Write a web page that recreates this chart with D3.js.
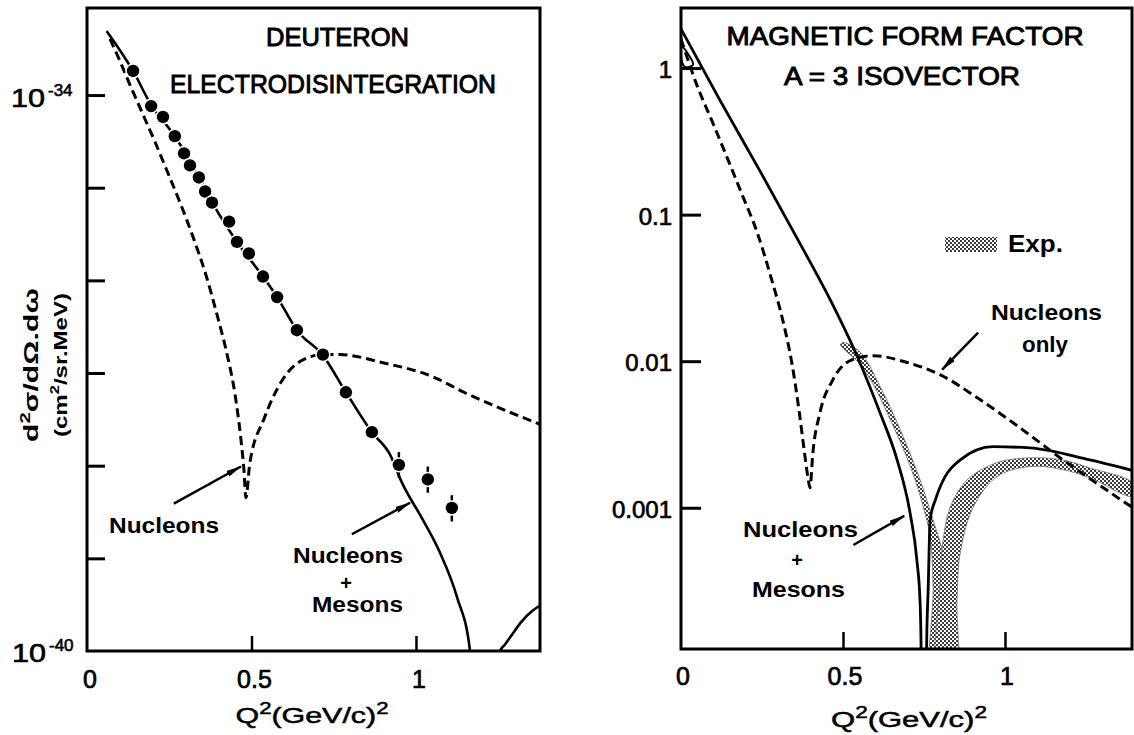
<!DOCTYPE html>
<html><head><meta charset="utf-8">
<script src="https://cdn.jsdelivr.net/npm/d3@7"></script>
<style>
body{margin:0;background:#fff}
svg{display:block}
text{font-family:"Liberation Sans",Arial,sans-serif;fill:#000}
</style>
</head><body>
<svg id="c" width="1134" height="735"></svg>
<script>
// ---------------- LEFT PANEL: Deuteron electrodisintegration ----------------
const deutQ2      = [0.140,0.195,0.231,0.267,0.295,0.313,0.340,0.359,0.380,0.432,0.456,0.492,0.535,0.578,0.638,0.717,0.787,0.866,0.948,1.036,1.109];
const deutSigma   = [1.82e-34,7.6e-35,5.8e-35,3.6e-35,2.35e-35,1.74e-35,1.29e-35,9.1e-36,6.9e-36,4.3e-36,2.6e-36,1.95e-36,1.1e-36,6.6e-37,2.9e-37,1.58e-37,6.2e-38,2.3e-38,1.02e-38,7.1e-39,3.5e-39];
const deutErrQ2   = [0.948,1.036,1.109];
const deutErrLo   = [7.4e-39,5.1e-39,2.5e-39];
const deutErrHi   = [1.4e-38,9.8e-39,4.8e-39];

const deutNMQ2    = [0.06,0.14,0.195,0.267,0.34,0.38,0.456,0.535,0.578,0.638,0.717,0.787,0.866,0.921,0.957,1.021,1.073,1.125,1.164,1.175];
const deutNM      = [4.9e-34,1.82e-34,7.8e-35,3.6e-35,1.3e-35,7.0e-36,2.6e-36,1.1e-36,6.6e-37,2.9e-37,1.55e-37,6.2e-38,2.3e-38,1.32e-38,6.6e-39,2.6e-39,1.15e-39,3.8e-40,1.02e-40,1e-41];
const deutNM2Q2   = [1.250,1.256,1.270,1.289,1.319,1.353,1.377];
const deutNM2     = [1e-41,1.0e-40,1.17e-40,1.45e-40,2.04e-40,2.7e-40,3.1e-40];

const deutNQ2     = [0.070,0.100,0.131,0.167,0.207,0.246,0.286,0.325,0.362,0.395,0.426,0.450,0.468,0.477,0.483,0.495,0.538,0.593,0.65,0.717,0.769,0.9,1.052,1.146,1.377];
const deutN       = [4.03e-34,2.33e-34,1.28e-34,6.54e-35,3.10e-35,1.44e-35,6.47e-36,2.77e-36,1.13e-36,4.29e-37,1.58e-37,5.86e-38,1.91e-38,9.06e-39,4.51e-39,1.07e-38,3.2e-38,8.3e-38,1.35e-37,1.58e-37,1.58e-37,1.29e-37,9.1e-38,6.2e-38,2.8e-38];

const leftYTicks  = [1e-34,1e-35,1e-36,1e-37,1e-38,1e-39];
const xTicks      = [0.5, 1];
const xTickLabels = ["0","0.5","1"];
const xLabelVals  = [0, 0.5, 1];

// ---------------- RIGHT PANEL: magnetic form factor ----------------
const ffNMQ2  = [0.0,0.120,0.244,0.367,0.460,0.543,0.614,0.667,0.707,0.728,0.738,0.741,0.744];
const ffNM    = [1.85,0.604,0.198,0.0637,0.0264,0.0109,0.00446,0.00212,0.00092,0.00044,0.000224,0.00011,1e-5];
const ffNM2Q2 = [0.755,0.758,0.763,0.769,0.785,0.800,0.862,0.963,1.077,1.262,1.392];
const ffNM2   = [1e-5,1.1e-4,2.83e-4,8.3e-4,1.13e-3,1.39e-3,2.12e-3,2.61e-3,2.56e-3,2.12e-3,1.80e-3];

const ffNQ2   = [0.0,0.049,0.096,0.142,0.188,0.235,0.278,0.315,0.343,0.364,0.380,0.392,0.398,0.407,0.429,0.469,0.531,0.593,0.698,0.799,0.923,1.025,1.108,1.179,1.253,1.392];
const ffN     = [1.58,0.765,0.434,0.246,0.138,0.0757,0.0372,0.0187,0.00948,0.00467,0.00249,0.0016,0.00137,0.00237,0.00446,0.00748,0.0103,0.0109,0.0098,0.0081,0.00547,0.0038,0.00278,0.00212,0.00163,0.00101];

// experimental band outlines (closed polygons, Q2 / |F|)
const exp1Q2  = [0.492,0.545,0.585,0.646,0.708,0.748,0.769,0.778,0.778,0.846,0.846,0.840,0.809,0.778,0.738,0.677,0.615,0.554,0.502];
const exp1F   = [0.01297,0.00993,0.00748,0.00399,0.00191,0.00101,0.000632,0.000288,5e-5,5e-5,0.000116,0.000224,0.000492,0.000826,0.00155,0.0034,0.0067,0.01146,0.0134];
const exp2Q2  = [0.846,0.852,0.862,0.902,0.975,1.077,1.178,1.262,1.392,1.392,1.262,1.178,1.077,0.975,0.883,0.831,0.809,0.800,0.794];
const exp2F   = [5e-5,0.000234,0.000492,0.00101,0.00163,0.00191,0.00182,0.0016,0.0012,0.00148,0.00187,0.00212,0.00219,0.00203,0.00155,0.00101,0.0006,0.00032,5e-5];
const exp0Q2  = [0.003,0.037,0.012,0.0];
const exp0F   = [1.39,1.05,1.02,1.19];

const rightYTicks  = [1, 0.1, 0.01, 0.001];
const rightYLabels = ["1","0.1","0.01","0.001"];

// ---------------- drawing ----------------
const svg = d3.select("#c");
const zip = (a,b) => a.map((v,i)=>[v,b[i]]);

const defs = svg.append("defs");
const pat = defs.append("pattern").attr("id","stip").attr("width",4).attr("height",4).attr("patternUnits","userSpaceOnUse");
pat.append("rect").attr("width",4).attr("height",4).attr("fill","#fff");
pat.append("rect").attr("x",0).attr("y",0).attr("width",2).attr("height",2).attr("fill","#3a3a3a");
pat.append("rect").attr("x",2).attr("y",2).attr("width",2).attr("height",2).attr("fill","#3a3a3a");
defs.append("marker").attr("id","arr").attr("viewBox","0 0 16 8").attr("refX",15).attr("refY",4)
  .attr("markerWidth",16).attr("markerHeight",8).attr("orient","auto").attr("markerUnits","userSpaceOnUse")
  .append("path").attr("d","M0,0.8 L16,4 L0,7.2 Z").attr("fill","#000");

// scales
const xL = d3.scaleLinear().domain([0, 1.377]).range([87, 540]);
const yL = d3.scaleLog().domain([1e-40, 8.7e-34]).range([651, 8]);
const xR = d3.scaleLinear().domain([0, 1.392]).range([681, 1132]);
const yR = d3.scaleLog().domain([1.087e-4, 2.57]).range([649, 8]);

function clip(id, x, y){
  defs.append("clipPath").attr("id",id).append("rect")
    .attr("x",x.range()[0]).attr("y",y.range()[1]).attr("width",x.range()[1]-x.range()[0]).attr("height",y.range()[0]-y.range()[1]);
}
clip("cl", xL, yL); clip("cr", xR, yR);

const lineL = d3.line().x(d=>xL(d[0])).y(d=>yL(d[1])).curve(d3.curveMonotoneX);
const lineR = d3.line().x(d=>xR(d[0])).y(d=>yR(d[1])).curve(d3.curveMonotoneX);
const polyR = d3.line().x(d=>xR(d[0])).y(d=>yR(d[1])).curve(d3.curveCatmullRomClosed.alpha(0.5));

const dashed = "9,5";

// ---- LEFT ----
const gL = svg.append("g");
const cL = gL.append("g").attr("clip-path","url(#cl)");
cL.append("path").attr("d", lineL(zip(deutNQ2,deutN))).attr("fill","none").attr("stroke","#000").attr("stroke-width",3).attr("stroke-dasharray",dashed);
cL.append("path").attr("d", lineL(zip(deutNMQ2,deutNM))).attr("fill","none").attr("stroke","#000").attr("stroke-width",2.6);
cL.append("path").attr("d", lineL(zip(deutNM2Q2,deutNM2))).attr("fill","none").attr("stroke","#000").attr("stroke-width",2.6);
// error bars
cL.selectAll(".eb").data(deutErrQ2.map((q,i)=>({q,lo:deutErrLo[i],hi:deutErrHi[i]}))).enter().append("line")
  .attr("x1",d=>xL(d.q)).attr("x2",d=>xL(d.q)).attr("y1",d=>yL(d.lo)).attr("y2",d=>yL(d.hi))
  .attr("stroke","#000").attr("stroke-width",2.5);
cL.selectAll(".pt").data(zip(deutQ2,deutSigma)).enter().append("circle")
  .attr("cx",d=>xL(d[0])).attr("cy",d=>yL(d[1])).attr("r",6.2)
  .attr("fill","#000").attr("stroke","#fff").attr("stroke-width",3).style("paint-order","stroke");

// axes (inward ticks)
gL.append("g").attr("transform",`translate(${xL.range()[0]},0)`)
  .call(d3.axisLeft(yL).tickValues(leftYTicks).tickSize(-18).tickFormat(""))
  .call(g=>g.select(".domain").remove()).selectAll("line").attr("stroke-width",3);
gL.append("g").attr("transform",`translate(0,${yL.range()[0]})`)
  .call(d3.axisBottom(xL).tickValues(xTicks).tickSize(-15).tickFormat(""))
  .call(g=>g.select(".domain").remove()).selectAll("line").attr("stroke-width",2.5);
gL.append("rect").attr("x",xL.range()[0]).attr("y",yL.range()[1]).attr("width",xL.range()[1]-xL.range()[0]).attr("height",yL.range()[0]-yL.range()[1])
  .attr("fill","none").attr("stroke","#000").attr("stroke-width",3);

// ---- RIGHT ----
const gR = svg.append("g");
const cR = gR.append("g").attr("clip-path","url(#cr)");
[zip(exp1Q2,exp1F), zip(exp2Q2,exp2F)].forEach(p=>{
  cR.append("path").attr("d", polyR(p)).attr("fill","url(#stip)").attr("stroke","#777").attr("stroke-width",0.8);
});
cR.append("path").attr("d", polyR(zip(exp0Q2,exp0F))).attr("fill","#fff").attr("stroke","#000").attr("stroke-width",2);
cR.append("path").attr("d", lineR(zip(ffNQ2,ffN))).attr("fill","none").attr("stroke","#000").attr("stroke-width",3).attr("stroke-dasharray",dashed);
cR.append("path").attr("d", lineR(zip(ffNMQ2,ffNM))).attr("fill","none").attr("stroke","#000").attr("stroke-width",2.8);
cR.append("path").attr("d", lineR(zip(ffNM2Q2,ffNM2))).attr("fill","none").attr("stroke","#000").attr("stroke-width",2.8);

gR.append("g").attr("transform",`translate(${xR.range()[0]},0)`)
  .call(d3.axisLeft(yR).tickValues(rightYTicks).tickSize(-20).tickFormat(""))
  .call(g=>g.select(".domain").remove()).selectAll("line").attr("stroke-width",3);
gR.append("g").attr("transform",`translate(0,${yR.range()[0]})`)
  .call(d3.axisBottom(xR).tickValues(xTicks).tickSize(-17).tickFormat(""))
  .call(g=>g.select(".domain").remove()).selectAll("line").attr("stroke-width",2.5);
gR.append("rect").attr("x",xR.range()[0]).attr("y",yR.range()[1]).attr("width",xR.range()[1]-xR.range()[0]).attr("height",yR.range()[0]-yR.range()[1])
  .attr("fill","none").attr("stroke","#000").attr("stroke-width",3);

// ---- TEXT ----
function txt(x,y,s,size,len,opt={}){
  const t = svg.append("text").attr("x",x).attr("y",y).attr("font-size",size)
    .attr("text-anchor",opt.anchor||"middle").attr("font-weight",opt.weight||"bold").text(s);
  if(len) t.attr("textLength",len).attr("lengthAdjust","spacingAndGlyphs");
  if(opt.sw) t.attr("stroke","#000").attr("stroke-width",opt.sw);
  return t;
}
txt(337.5,46,"DEUTERON",25,143,{weight:"normal",sw:0.9});
txt(333,93,"ELECTRODISINTEGRATION",25,326,{weight:"normal",sw:0.9});
txt(905,45,"MAGNETIC  FORM  FACTOR",25,357,{weight:"normal",sw:0.9});
txt(902,85,"A = 3  ISOVECTOR",25,236,{weight:"normal",sw:0.9});

txt(164,533,"Nucleons",22,110);
txt(348,563,"Nucleons",22,110);
txt(346,590,"+",20,null);
txt(357.5,612,"Mesons",22,91);

txt(1046.5,320,"Nucleons",22,111);
txt(1045,352,"only",22,46);
txt(800.5,537,"Nucleons",22,115);
txt(797,567,"+",20,null);
txt(798.5,597,"Mesons",22,93);
txt(1008,252,"Exp.",24,55,{anchor:"start"});
svg.append("rect").attr("x",945).attr("y",237).attr("width",52).attr("height",15).attr("fill","url(#stip)");

// arrows (data coordinates)
const arrowsL = [[[0.264,3.9e-39],[0.468,9.8e-39]], [[0.805,1.82e-39],[0.982,3.98e-39]]];
const arrowsR = [[[0.917,0.01567],[0.806,0.00877]], [[0.532,0.000557],[0.689,0.000881]]];
arrowsL.forEach(a=>svg.append("line").attr("x1",xL(a[0][0])).attr("y1",yL(a[0][1])).attr("x2",xL(a[1][0])).attr("y2",yL(a[1][1]))
  .attr("stroke","#000").attr("stroke-width",2.5).attr("marker-end","url(#arr)"));
arrowsR.forEach(a=>svg.append("line").attr("x1",xR(a[0][0])).attr("y1",yR(a[0][1])).attr("x2",xR(a[1][0])).attr("y2",yR(a[1][1]))
  .attr("stroke","#000").attr("stroke-width",2.5).attr("marker-end","url(#arr)"));

// x tick labels
xLabelVals.forEach((v,i)=>{
  txt(xL(v)+3,688,xTickLabels[i],25,null,{weight:"normal",sw:0.7});
  txt(xR(v)+2,685,xTickLabels[i],25,null,{weight:"normal",sw:0.7});
});
// x axis titles
function q2(x,y,len){
  const t = svg.append("text").attr("x",x).attr("y",y).attr("font-size",22).attr("text-anchor","middle")
    .attr("textLength",len).attr("lengthAdjust","spacingAndGlyphs").attr("stroke","#000").attr("stroke-width",0.5);
  t.append("tspan").text("Q");
  t.append("tspan").attr("dy",-9).attr("font-size",16).text("2");
  t.append("tspan").attr("dy",9).text("(GeV/c)");
  t.append("tspan").attr("dy",-9).attr("font-size",16).text("2");
}
q2(312,723,153);
q2(909,727,156);

// left y tick labels
function pow10(x,y,exp){
  const t = svg.append("text").attr("x",x).attr("y",y).attr("font-size",25).attr("stroke","#000").attr("stroke-width",0.6);
  t.append("tspan").attr("textLength",34).attr("lengthAdjust","spacingAndGlyphs").text("10");
  t.append("tspan").attr("dx",3).attr("dy",-11).attr("font-size",17).text(exp);
}
pow10(11,107,"-34");
pow10(12,662,"-40");

// right y tick labels
rightYTicks.forEach((v,i)=>{
  txt(672, yR(v)+10, rightYLabels[i], 24, null, {anchor:"end", weight:"normal", sw:0.7});
});

// left y-axis title (rotated)
const yt1 = svg.append("text").attr("transform","translate(38,365) rotate(-90)").attr("text-anchor","middle")
  .attr("font-size",21).attr("font-weight","bold").attr("textLength",154).attr("lengthAdjust","spacingAndGlyphs");
yt1.append("tspan").text("d");
yt1.append("tspan").attr("dy",-8).attr("font-size",14).text("2");
yt1.append("tspan").attr("dy",8).text("σ/dΩ.dω");
const yt2 = svg.append("text").attr("transform","translate(67,365) rotate(-90)").attr("text-anchor","middle")
  .attr("font-size",19).attr("font-weight","bold").attr("textLength",144).attr("lengthAdjust","spacingAndGlyphs");
yt2.append("tspan").text("(cm");
yt2.append("tspan").attr("dy",-8).attr("font-size",13).text("2");
yt2.append("tspan").attr("dy",8).text("/sr.MeV)");
</script>
</body></html>
